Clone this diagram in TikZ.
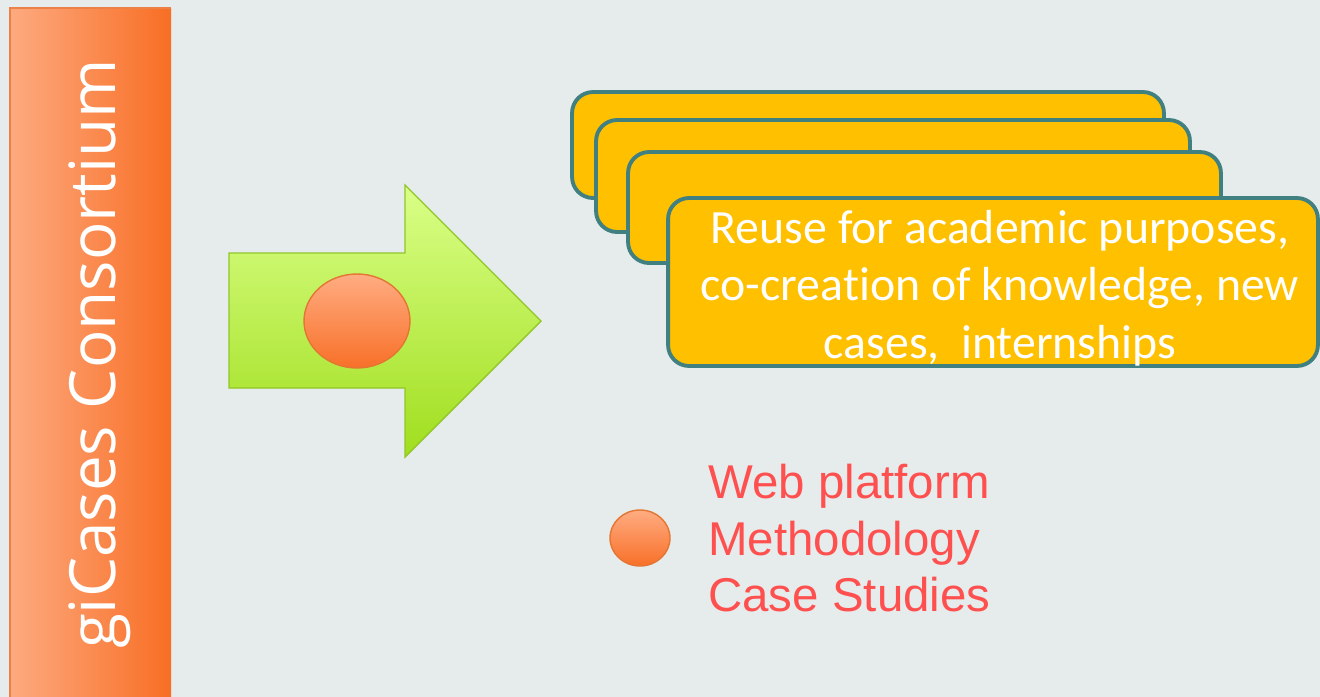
\documentclass[tikz,border=0pt]{standalone}
\usepackage{fontspec}
\usetikzlibrary{shapes.geometric}
\newfontfamily\cardfont[Ligatures=NoCommon]{Carlito}
\newfontfamily\legendfont{Liberation Sans}
\newfontfamily\bandfont{Open Sans}
\definecolor{bg}{RGB}{230,236,236}
\definecolor{bandlight}{RGB}{253,170,128}
\definecolor{bandmid}{RGB}{251,156,108}
\definecolor{banddark}{RGB}{248,110,36}
\definecolor{bandline}{RGB}{236,128,70}
\definecolor{arrowtop}{RGB}{218,255,136}
\definecolor{arrowbot}{RGB}{160,222,30}
\definecolor{arrowline}{RGB}{146,198,40}
\definecolor{bloblight}{RGB}{255,172,130}
\definecolor{blobdark}{RGB}{248,112,40}
\definecolor{blobline}{RGB}{228,118,52}
\definecolor{cardfill}{RGB}{255,192,0}
\definecolor{cardline}{RGB}{65,128,128}
\definecolor{legendred}{RGB}{255,80,80}
\begin{document}
\begin{tikzpicture}[x=0.02cm, y=-0.02cm,
  card/.style={draw=cardline, fill=cardfill, line width=2.2pt, rounded corners=0.42cm, inner sep=0pt},
  blob/.style={ellipse, draw=blobline, line width=0.8pt, top color=bloblight, bottom color=blobdark, inner sep=0pt}]
\useasboundingbox[fill=bg] (0,0) rectangle (1320,697);
\shade[left color=bandlight, middle color=bandmid, right color=banddark] (10,8) rectangle (171,697);
\draw[bandline, line width=0.8pt] (10,697)--(10,8)--(171,8);
\node[rotate=90, anchor=base, text=white, font={\bandfont\fontsize{36.3}{44}\selectfont}] (band) at (115,354) {giCases Consortium};
\shadedraw[top color=arrowtop, bottom color=arrowbot, draw=arrowline, line width=0.8pt] (229,253)--(405,253)--(405,185)--(541,321)--(405,457)--(405,388)--(229,388)--cycle;
\node[blob, minimum width=2.12cm, minimum height=1.88cm] (core) at (357,321) {};
\node[card, minimum width=11.84cm, minimum height=2.12cm] (c1) at (868,145) {};
\node[card, minimum width=11.88cm, minimum height=2.24cm] (c2) at (893,176) {};
\node[card, minimum width=11.86cm, minimum height=2.22cm] (c3) at (924.5,207.5) {};
\node[card, minimum width=13cm, minimum height=3.36cm] (c4) at (993,282) {};
\node[text=white, align=center, inner sep=0pt, font={\cardfont\fontsize{27.2}{32.6}\selectfont}] (c4text) at (1000,288) {Reuse for academic purposes,\\co-creation of knowledge, new\\cases,\ \ internships};
\node[blob, minimum width=1.2cm, minimum height=1.12cm] (key) at (640,538) {};
\node[anchor=north west, inner sep=0pt, text=legendred, align=left, font={\legendfont\fontsize{27}{32.2}\selectfont}] (keytext) at (708,464) {Web platform\\Methodology\\Case Studies};
\end{tikzpicture}
\end{document}
